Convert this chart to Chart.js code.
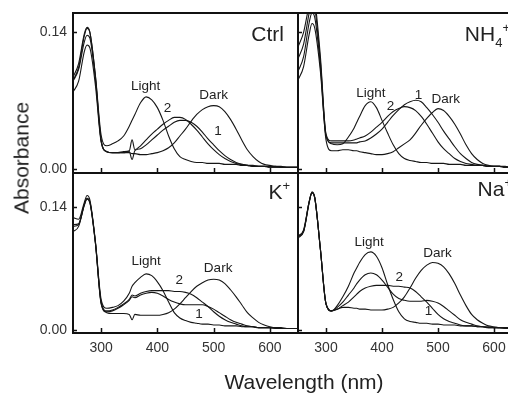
<!DOCTYPE html>
<html>
<head>
<meta charset="utf-8">
<script src="https://cdn.jsdelivr.net/npm/chart.js@4.4.1/dist/chart.umd.min.js"></script>
<style>
  html, body { margin: 0; padding: 0; background: #fff; }
  #fig { position: relative; width: 508px; height: 394px; overflow: hidden; font-family: "Liberation Sans", Arial, sans-serif; }
  #fig canvas { position: absolute; left: 0; top: 0; }
  .title { position: absolute; color: #222; font-size: 21px; white-space: nowrap; line-height: 1; }
  #ytitle { left: 21px; top: 158px; transform: translate(-50%, -50%) rotate(-90deg); }
  #xtitle { left: 304px; top: 381px; transform: translate(-50%, -50%); }
</style>
</head>
<body>
<div id="fig">
  <canvas id="ctrl" width="540" height="394"></canvas>
  <canvas id="nh4" width="540" height="394"></canvas>
  <canvas id="kplus" width="540" height="394"></canvas>
  <canvas id="naplus" width="540" height="394"></canvas>
  <div class="title" id="ytitle">Absorbance</div>
  <div class="title" id="xtitle">Wavelength (nm)</div>
</div>
<script>
// wavelength grid (nm), shared by every trace
const wavelengths = [250, 260, 270, 275, 280, 290, 300, 310, 320, 330, 340, 350, 355, 360,
  370, 380, 390, 400, 410, 420, 430, 440, 450, 460, 470, 480, 490, 500, 510, 520,
  530, 540, 550, 560, 570, 580, 590, 600, 610, 620, 630, 640, 650];

const xTickValues = [300, 400, 500, 600];
const yTickValues = [0, 0.14];

// Ctrl
const ctrlLight = [0.094, 0.108, 0.138, 0.145, 0.140, 0.095, 0.035, 0.024, 0.026, 0.029, 0.034, 0.044, 0.050, 0.056,
  0.068, 0.074, 0.071, 0.063, 0.050, 0.034, 0.021, 0.013, 0.010, 0.008,
  0.007, 0.007, 0.006, 0.006, 0.006, 0.005, 0.005, 0.005, 0.004, 0.004,
  0.004, 0.003, 0.003, 0.003, 0.003, 0.002, 0.002, 0.002, 0.002];
const ctrlDark = [0.079, 0.090, 0.120, 0.127, 0.124, 0.085, 0.028, 0.018, 0.017, 0.017, 0.017, 0.017, 0.016, 0.016,
  0.015, 0.015, 0.016, 0.017, 0.019, 0.022, 0.027, 0.034, 0.041, 0.049,
  0.056, 0.061, 0.064, 0.065, 0.064, 0.059, 0.051, 0.041, 0.030, 0.020,
  0.013, 0.008, 0.005, 0.004, 0.003, 0.003, 0.002, 0.002, 0.002];
const ctrl1 = [0.090, 0.102, 0.130, 0.137, 0.134, 0.091, 0.029, 0.018, 0.017, 0.017, 0.017, 0.018, 0.010, 0.019,
  0.021, 0.025, 0.030, 0.035, 0.040, 0.044, 0.048, 0.050, 0.050, 0.048,
  0.044, 0.038, 0.031, 0.025, 0.019, 0.014, 0.010, 0.007, 0.005, 0.004,
  0.003, 0.003, 0.003, 0.002, 0.002, 0.002, 0.002, 0.002, 0.002];
const ctrl2 = [0.091, 0.104, 0.136, 0.144, 0.140, 0.094, 0.030, 0.018, 0.017, 0.017, 0.018, 0.019, 0.030, 0.020,
  0.024, 0.030, 0.036, 0.041, 0.046, 0.050, 0.053, 0.053, 0.051, 0.046,
  0.040, 0.033, 0.026, 0.020, 0.015, 0.011, 0.008, 0.006, 0.005, 0.004,
  0.003, 0.003, 0.003, 0.002, 0.002, 0.002, 0.002, 0.002, 0.002];

// NH4+
const nh4Light = [0.113, 0.128, 0.160, 0.172, 0.165, 0.110, 0.035, 0.026, 0.025, 0.026, 0.033, 0.042, 0.048, 0.054,
  0.065, 0.069, 0.063, 0.050, 0.037, 0.025, 0.016, 0.011, 0.009, 0.008,
  0.007, 0.007, 0.006, 0.006, 0.006, 0.005, 0.005, 0.005, 0.004, 0.004,
  0.004, 0.004, 0.003, 0.003, 0.003, 0.003, 0.002, 0.002, 0.002];
const nh4Dark = [0.100, 0.115, 0.150, 0.160, 0.155, 0.105, 0.030, 0.019, 0.019, 0.020, 0.020, 0.019, 0.019, 0.018,
  0.017, 0.016, 0.015, 0.015, 0.016, 0.018, 0.022, 0.026, 0.030, 0.037,
  0.045, 0.052, 0.058, 0.062, 0.060, 0.054, 0.046, 0.036, 0.025, 0.016,
  0.010, 0.006, 0.004, 0.003, 0.003, 0.002, 0.002, 0.002, 0.002];
const nh41 = [0.091, 0.105, 0.138, 0.149, 0.144, 0.100, 0.034, 0.027, 0.027, 0.027, 0.027, 0.027, 0.027, 0.028,
  0.029, 0.032, 0.036, 0.041, 0.048, 0.055, 0.061, 0.066, 0.069, 0.0705,
  0.069, 0.063, 0.056, 0.048, 0.039, 0.031, 0.023, 0.016, 0.011, 0.007,
  0.005, 0.004, 0.003, 0.003, 0.003, 0.002, 0.002, 0.002, 0.002];
const nh42 = [0.125, 0.140, 0.168, 0.178, 0.172, 0.115, 0.036, 0.029, 0.029, 0.029, 0.029, 0.030, 0.031, 0.032,
  0.034, 0.038, 0.043, 0.048, 0.054, 0.059, 0.062, 0.064, 0.063, 0.060,
  0.054, 0.046, 0.037, 0.028, 0.021, 0.016, 0.011, 0.008, 0.006, 0.005,
  0.004, 0.004, 0.003, 0.003, 0.003, 0.002, 0.002, 0.002, 0.002];

// K+
const kLight = [0.128, 0.126, 0.145, 0.153, 0.148, 0.100, 0.035, 0.025, 0.026, 0.028, 0.033, 0.042, 0.050, 0.054,
  0.060, 0.064, 0.062, 0.055, 0.045, 0.032, 0.020, 0.014, 0.011, 0.009,
  0.008, 0.007, 0.007, 0.006, 0.006, 0.005, 0.005, 0.005, 0.004, 0.004,
  0.004, 0.003, 0.003, 0.003, 0.003, 0.002, 0.002, 0.002, 0.002];
const kDark = [0.112, 0.118, 0.142, 0.149, 0.145, 0.098, 0.030, 0.020, 0.019, 0.019, 0.019, 0.018, 0.012, 0.018,
  0.017, 0.017, 0.017, 0.017, 0.018, 0.020, 0.024, 0.030, 0.037, 0.044,
  0.050, 0.054, 0.057, 0.058, 0.057, 0.053, 0.046, 0.038, 0.029, 0.020,
  0.014, 0.009, 0.006, 0.004, 0.003, 0.003, 0.002, 0.002, 0.002];
const k1 = [0.118, 0.120, 0.142, 0.149, 0.145, 0.098, 0.031, 0.021, 0.022, 0.025, 0.029, 0.034, 0.038, 0.037,
  0.040, 0.042, 0.043, 0.042, 0.039, 0.035, 0.032, 0.030, 0.029, 0.029,
  0.029, 0.029, 0.027, 0.024, 0.020, 0.016, 0.012, 0.009, 0.007, 0.005,
  0.004, 0.003, 0.003, 0.003, 0.002, 0.002, 0.002, 0.002, 0.002];
const k2 = [0.120, 0.121, 0.143, 0.150, 0.146, 0.099, 0.032, 0.022, 0.023, 0.026, 0.030, 0.035, 0.040, 0.039,
  0.042, 0.044, 0.045, 0.045, 0.045, 0.045, 0.044, 0.044, 0.043, 0.041,
  0.037, 0.032, 0.027, 0.021, 0.016, 0.012, 0.009, 0.007, 0.005, 0.004,
  0.004, 0.003, 0.003, 0.003, 0.002, 0.002, 0.002, 0.002, 0.002];

// Na+
const naLight = [0.105, 0.112, 0.146, 0.157, 0.151, 0.092, 0.030, 0.022, 0.028, 0.038, 0.050, 0.065, 0.071, 0.077,
  0.086, 0.089, 0.084, 0.071, 0.052, 0.035, 0.021, 0.013, 0.010, 0.009,
  0.008, 0.008, 0.007, 0.007, 0.006, 0.006, 0.006, 0.005, 0.005, 0.005,
  0.004, 0.004, 0.004, 0.003, 0.003, 0.003, 0.003, 0.002, 0.002];
const naDark = [0.107, 0.114, 0.146, 0.156, 0.150, 0.092, 0.030, 0.022, 0.024, 0.026, 0.026, 0.025, 0.025, 0.024,
  0.024, 0.023, 0.023, 0.023, 0.024, 0.026, 0.031, 0.038, 0.048, 0.059,
  0.068, 0.074, 0.077, 0.076, 0.072, 0.064, 0.053, 0.040, 0.028, 0.018,
  0.012, 0.008, 0.005, 0.004, 0.003, 0.003, 0.002, 0.002, 0.002];
const na1 = [0.106, 0.112, 0.145, 0.157, 0.150, 0.092, 0.030, 0.022, 0.026, 0.032, 0.040, 0.048, 0.053, 0.057,
  0.063, 0.065, 0.063, 0.057, 0.049, 0.041, 0.036, 0.034, 0.033, 0.033,
  0.033, 0.034, 0.033, 0.031, 0.027, 0.022, 0.017, 0.012, 0.009, 0.007,
  0.005, 0.004, 0.003, 0.003, 0.003, 0.002, 0.002, 0.002, 0.002];
const na2 = [0.107, 0.113, 0.146, 0.156, 0.150, 0.092, 0.030, 0.022, 0.024, 0.028, 0.032, 0.038, 0.041, 0.044,
  0.048, 0.050, 0.051, 0.051, 0.051, 0.050, 0.050, 0.049, 0.048, 0.044,
  0.038, 0.032, 0.025, 0.018, 0.013, 0.010, 0.008, 0.006, 0.005, 0.005,
  0.004, 0.004, 0.003, 0.003, 0.003, 0.002, 0.002, 0.002, 0.002];

// curve labels: [text, wavelength, absorbance]
const ctrlNotes = [["Light", 379, 0.085], ["Dark", 500, 0.076], ["2", 418, 0.062], ["1", 508, 0.039]];
const nh4Notes = [["Light", 380, 0.078], ["2", 415, 0.064], ["1", 465, 0.076], ["Dark", 514, 0.072]];
const kNotes = [["Light", 380, 0.078], ["Dark", 508, 0.070], ["2", 439, 0.057], ["1", 474, 0.018]];
const naNotes = [["Light", 377, 0.100], ["Dark", 499, 0.087], ["2", 431, 0.060], ["1", 483, 0.021]];

const CW = 540, CH = 394;
const Y_AXIS_W = 60, X_AXIS_H = 30;
const FONT = '"Liberation Sans", Arial, sans-serif';

const panelDecor = {
  id: "panelDecor",
  afterDatasetsDraw(chart, args, opts) {
    const { ctx, chartArea: a } = chart;
    const x = chart.scales.x, y = chart.scales.y;
    ctx.save();
    ctx.strokeStyle = "#111";
    ctx.lineWidth = 2;
    ctx.strokeRect(a.left, a.top, a.right - a.left, a.bottom - a.top);

    // inward tick marks
    ctx.lineWidth = 1.5;
    ctx.beginPath();
    xTickValues.forEach((v) => {
      const px = Math.round(x.getPixelForValue(v)) + 0.5;
      ctx.moveTo(px, a.bottom);
      ctx.lineTo(px, a.bottom - 5);
    });
    yTickValues.forEach((v) => {
      const py = Math.round(y.getPixelForValue(v)) + 0.5;
      ctx.moveTo(a.left, py);
      ctx.lineTo(a.left + 4, py);
    });
    ctx.stroke();

    ctx.fillStyle = "#222";
    ctx.font = "13.5px " + FONT;
    ctx.textAlign = "center";
    ctx.textBaseline = "middle";
    opts.notes.forEach((n) => {
      ctx.fillText(n[0], x.getPixelForValue(n[1]), y.getPixelForValue(n[2]));
    });

    // panel title, right aligned, with sub/superscripts
    ctx.textAlign = "left";
    ctx.textBaseline = "alphabetic";
    let total = 0;
    opts.title.forEach((s) => {
      ctx.font = s[1] + "px " + FONT;
      total += ctx.measureText(s[0]).width;
    });
    let cx = a.right - opts.titleInset - total;
    const base = a.top + opts.titleBase;
    opts.title.forEach((s) => {
      ctx.font = s[1] + "px " + FONT;
      ctx.fillText(s[0], cx, base + s[2]);
      cx += ctx.measureText(s[0]).width;
    });
    ctx.restore();
  },
};

function makePanel(id, series, notes, title, box, yRange, showX, showY) {
  const [L, T, R, B] = box;
  new Chart(document.getElementById(id), {
    type: "line",
    data: {
      datasets: series.map((s) => ({
        data: wavelengths.map((w, i) => ({ x: w, y: s[i] })),
        borderColor: "#161616",
        borderWidth: 1.1,
        pointRadius: 0,
        cubicInterpolationMode: "monotone",
        fill: false,
      })),
    },
    options: {
      responsive: false,
      animation: false,
      events: [],
      layout: {
        padding: {
          left: L - (showY ? Y_AXIS_W : 0),
          top: T,
          right: CW - R,
          bottom: CH - B - (showX ? X_AXIS_H : 0),
        },
      },
      plugins: {
        legend: { display: false },
        tooltip: { enabled: false },
        panelDecor: { notes: notes, title: title.parts, titleInset: title.inset, titleBase: title.base },
      },
      scales: {
        x: {
          type: "linear",
          min: 250,
          max: 650,
          display: showX,
          grid: { display: false, drawTicks: false },
          border: { display: false },
          ticks: { padding: 7, color: "#333", font: { family: FONT, size: 14 }, autoSkip: false, callback: (v) => String(v) },
          afterBuildTicks: (s) => { s.ticks = xTickValues.map((v) => ({ value: v })); },
          afterFit: (s) => { s.height = showX ? X_AXIS_H : 0; s.paddingLeft = 0; s.paddingRight = 0; },
        },
        y: {
          type: "linear",
          min: yRange[0],
          max: yRange[1],
          display: showY,
          grid: { display: false, drawTicks: false },
          border: { display: false },
          ticks: { padding: 6, color: "#333", font: { family: FONT, size: 14 }, autoSkip: false, callback: (v) => v.toFixed(2) },
          afterBuildTicks: (s) => { s.ticks = yTickValues.map((v) => ({ value: v })); },
          afterFit: (s) => { s.width = showY ? Y_AXIS_W : 0; s.paddingTop = 0; s.paddingBottom = 0; },
        },
      },
    },
    plugins: [panelDecor],
  });
}

const topRange = [-0.0038, 0.1597];
const bottomRange = [-0.0031, 0.1786];

makePanel("ctrl", [ctrlLight, ctrlDark, ctrl1, ctrl2], ctrlNotes,
  { parts: [["Ctrl", 21, 0]], inset: 14, base: 28 }, [73, 13, 298, 173], topRange, false, true);
makePanel("nh4", [nh4Light, nh4Dark, nh41, nh42], nh4Notes,
  { parts: [["NH", 21, 0], ["4", 13, 6], ["+", 13, -9]], inset: 12, base: 28 }, [298, 13, 522, 173], topRange, false, false);
makePanel("kplus", [kLight, kDark, k1, k2], kNotes,
  { parts: [["K", 21, 0], ["+", 13, -9]], inset: 8, base: 26 }, [73, 173, 298, 333], bottomRange, true, true);
makePanel("naplus", [naLight, naDark, na1, na2], naNotes,
  { parts: [["Na", 21, 0], ["+", 13, -9]], inset: 10, base: 23 }, [298, 173, 522, 333], bottomRange, true, false);
</script>
</body>
</html>
